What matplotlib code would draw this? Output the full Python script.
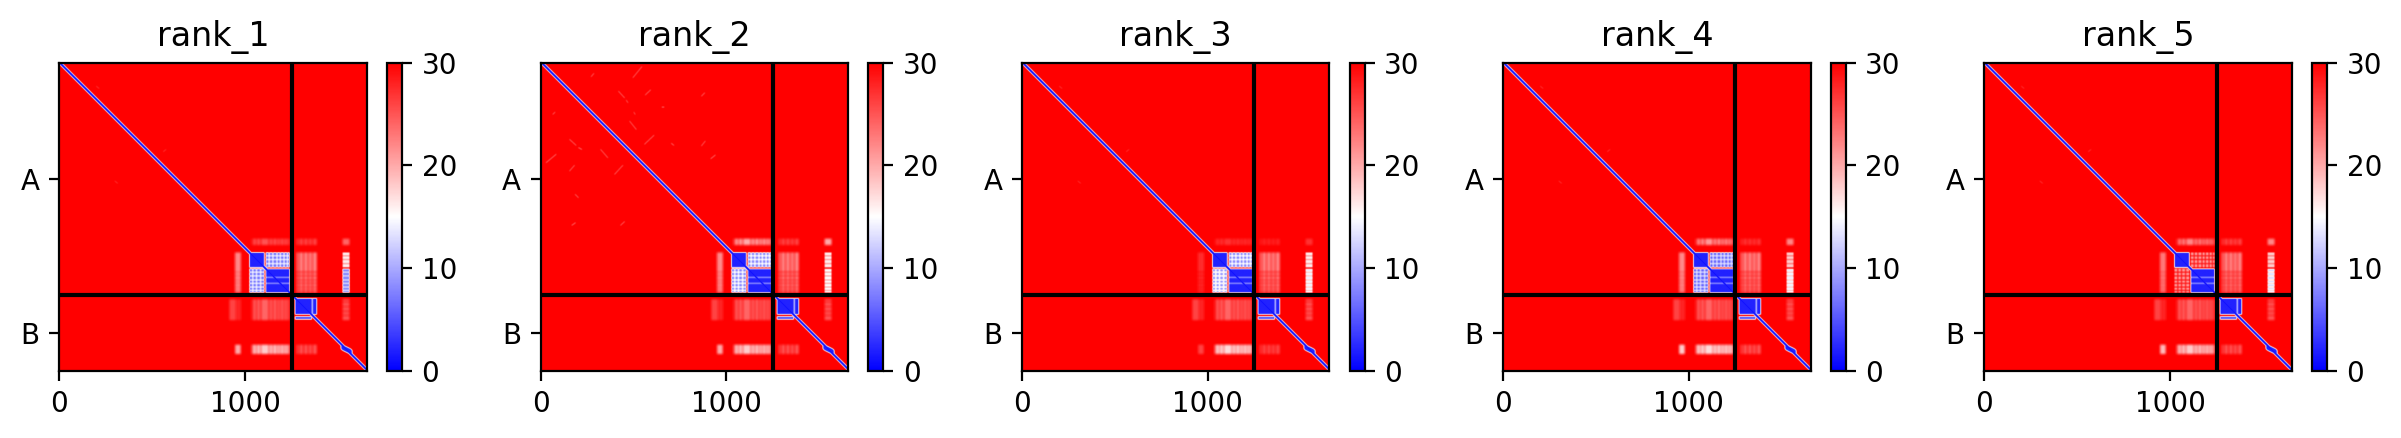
"""PAE panels for five ranked models, chains A and B."""
import numpy as np
import matplotlib
matplotlib.use("Agg")
import matplotlib.pyplot as plt

W, H = 2401, 438
DPI = 200

MODELS = ["rank_1", "rank_2", "rank_3", "rank_4", "rank_5"]
CHAIN_LABELS = ["A", "B"]
LEN_A = 1251
LEN_TOTAL = 1656
BACKGROUND = 30

# residue ranges
D1 = (1024, 1104)
D2 = (1112, 1240)
B1 = (1269, 1386)
B1_BLOCK_Y = (1271, 1357)
B1_BAND_X = (1269, 1359)
B1_BAND_Y = (1368, 1384)
D3_START = 1518
COL_LEFT = (947, 977)
COL_FAR = (916, 977)
COL_D3 = (1525, 1562)
D_ALL = (1036, 1239)
TOP_Y = (950, 984)
D3_ROW_Y = (1520, 1570)

STRIPES_D1 = [1042, 1062, 1084]
STRIPES_D2 = [1130, 1150, 1172, 1190, 1210, 1228]
STRIPES_B1 = [1290, 1315, 1340, 1362]
STRIPES_COL = [955, 968]
LINES_D2 = [1158, 1190]

# mean PAE per off-diagonal region, one value per model
BLOCK_BLUE = [2, 2, 2, 2, 2]
D1_D2 = [7, 8, 8, 6, 21]
D2_D1 = [7, 8, 9, 6, 21]
GAP_ROW = [24, 22, 24, 24, 26]
D_LEFT = [19, 19, 25, 19, 20]
D_TOP = [25, 20, 27, 21, 22]
B_TOP = [26, 26, 28, 27, 26]
D3_TOP = [24, 20, 27, 22, 22]
B_RIGHT = [22, 22, 22, 22, 22]
D3_D1 = [16, 16, 16, 18, 18]
D3_D2 = [8, 15, 14, 14, 13]
D_BELOW = [24, 24, 24, 24, 24]
D3_BELOW = [25, 25, 25, 25, 25]
D_BOTTOM = [18, 18, 17, 17, 18]
LEFT_BOTTOM = [20, 20, 26, 18, 19]
B_BOTTOM = [25, 25, 26, 25, 25]

# faint streaks away from the diagonal: x0, y0, x1, y1
STREAKS_RANK2 = [
    (494, 84, 542, 25), (269, 79, 284, 61), (416, 156, 449, 192),
    (560, 177, 589, 150), (458, 204, 467, 218), (862, 183, 880, 165),
    (650, 242, 661, 242), (499, 269, 506, 281), (476, 317, 512, 362),
    (556, 442, 607, 394), (153, 416, 188, 448), (320, 469, 359, 514),
    (27, 541, 81, 496), (153, 586, 180, 555), (395, 604, 440, 555),
    (862, 451, 883, 425), (912, 520, 937, 500), (427, 878, 449, 858),
    (165, 878, 185, 864), (183, 711, 201, 729), (63, 281, 75, 269),
    (700, 437, 714, 448), (201, 460, 219, 470),
]
STREAKS_OTHER = [(200, 130, 215, 142), (560, 482, 575, 470), (300, 640, 315, 652)]

# PAE against distance from the diagonal, in residues
DIAGONAL = [1, 1, 1, 1, 2, 3, 4, 6, 9, 12, 15, 18, 21, 24, 26, 28, 29]
# half width of the blue diamond on the diagonal, every 4 residues from D3_START
D3_HALF_WIDTH = [4, 8, 12, 16, 20, 24, 26, 26, 24, 20, 16, 12, 8, 4, 2]


def stamp(mat, xr, yr, level, xgaps=(), ygaps=(), bump=6):
    mat[yr[0]:yr[1], xr[0]:xr[1]] = level
    for g in xgaps:
        if xr[0] <= g < xr[1]:
            mat[yr[0]:yr[1], g - 3:g + 3] = np.minimum(level + bump, BACKGROUND)
    for g in ygaps:
        if yr[0] <= g < yr[1]:
            mat[g - 3:g + 3, xr[0]:xr[1]] = np.minimum(level + bump, BACKGROUND)


def streak(mat, seg, level):
    x0, y0, x1, y1 = seg
    n = max(abs(x1 - x0), abs(y1 - y0)) + 1
    xs = np.linspace(x0, x1, n).astype(int)
    ys = np.linspace(y0, y1, n).astype(int)
    for d in range(-1, 2):
        mat[np.clip(ys + d, 0, LEN_TOTAL - 1), xs] = level


def smooth(mat, size):
    kernel = np.ones(size) / size
    # edge padding so the plot edge stays at background
    pad = np.pad(mat, size, mode="edge")
    pad = np.apply_along_axis(lambda r: np.convolve(r, kernel, mode="same"), 0, pad)
    pad = np.apply_along_axis(lambda r: np.convolve(r, kernel, mode="same"), 1, pad)
    return pad[size:-size, size:-size]


def build_pae(k):
    mat = np.full((LEN_TOTAL, LEN_TOTAL), float(BACKGROUND))
    stx = STRIPES_D1 + STRIPES_D2

    # pale, soft regions first
    stamp(mat, COL_LEFT, (D1[0], D2[1]), D_LEFT[k], STRIPES_COL, STRIPES_D2)
    stamp(mat, D_ALL, TOP_Y, D_TOP[k], STRIPES_D2 + STRIPES_D1, bump=9)
    stamp(mat, (1278, 1386), TOP_Y, B_TOP[k], STRIPES_B1, bump=6)
    stamp(mat, COL_D3, TOP_Y, D3_TOP[k])
    stamp(mat, (1278, 1386), (D1[0], D2[1]), B_RIGHT[k], STRIPES_B1, STRIPES_D2, bump=7)
    stamp(mat, D_ALL, (1276, 1388), D_BELOW[k], stx, bump=6)
    stamp(mat, COL_FAR, (1276, 1388), 26, STRIPES_COL, bump=4)
    stamp(mat, COL_D3, (1276, 1388), D3_BELOW[k], ygaps=STRIPES_B1, bump=4)
    stamp(mat, D_ALL, D3_ROW_Y, D_BOTTOM[k], stx, bump=8)
    stamp(mat, COL_LEFT, D3_ROW_Y, LEFT_BOTTOM[k])
    stamp(mat, (1278, 1386), D3_ROW_Y, B_BOTTOM[k], STRIPES_B1, bump=5)
    mat = smooth(mat, 17)

    for s in (STREAKS_RANK2 if k == 1 else STREAKS_OTHER):
        streak(mat, s, 18 if k == 1 else 24)

    # sharper folded domains
    stamp(mat, COL_D3, D1, D3_D1[k], ygaps=STRIPES_D1)
    stamp(mat, COL_D3, D2, D3_D2[k], ygaps=STRIPES_D2, bump=6)
    stamp(mat, D2, D1, D1_D2[k], STRIPES_D2, STRIPES_D1, bump=8)
    stamp(mat, D1, D2, D2_D1[k], STRIPES_D1, STRIPES_D2, bump=8)
    stamp(mat, D1, (D1[1], D2[0]), GAP_ROW[k])
    stamp(mat, D1, D1, BLOCK_BLUE[k])
    stamp(mat, D2, D2, BLOCK_BLUE[k], ygaps=LINES_D2, bump=8)
    stamp(mat, B1, B1_BLOCK_Y, BLOCK_BLUE[k], [1362], bump=12)
    stamp(mat, B1_BAND_X, B1_BAND_Y, 5)
    for i, hw in enumerate(D3_HALF_WIDTH):
        r = D3_START + 4 * i
        for rr in range(r, r + 4):
            mat[rr, rr - hw:rr + hw + 1] = 2
    mat = smooth(mat, 9)

    idx = np.arange(LEN_TOTAL)
    for off, val in enumerate(DIAGONAL):
        for sign in (1, -1):
            j = idx[(idx + sign * off >= 0) & (idx + sign * off < LEN_TOTAL)]
            mat[j, j + sign * off] = np.minimum(mat[j, j + sign * off], val)
    return mat


plt.rcParams["font.family"] = "DejaVu Sans"
fig = plt.figure(figsize=(W / DPI, H / DPI), dpi=DPI)

for k, name in enumerate(MODELS):
    left = 59.3 + k * 481.25
    ax = fig.add_axes([left / W, (H - 370.7) / H, 307.6 / W, 308 / H])
    im = ax.imshow(build_pae(k), cmap="bwr", vmin=0, vmax=30,
                   extent=(0, LEN_TOTAL, LEN_TOTAL, 0))
    ax.hlines(LEN_A, 0, LEN_TOTAL, color="black")
    ax.vlines(LEN_A, 0, LEN_TOTAL, color="black")
    ax.set_xlim(0, LEN_TOTAL)
    ax.set_ylim(LEN_TOTAL, 0)
    ax.set_xticks([0, 1000])
    ax.set_yticks([LEN_A / 2, (LEN_A + LEN_TOTAL) / 2])
    ax.set_yticklabels(CHAIN_LABELS)
    ax.set_title(name)

    cax = fig.add_axes([(left + 327.8) / W, (H - 370.7) / H, 15 / W, 308 / H])
    cb = fig.colorbar(im, cax=cax)
    cb.set_ticks([0, 10, 20, 30])

fig.savefig("out.png", dpi=DPI)
